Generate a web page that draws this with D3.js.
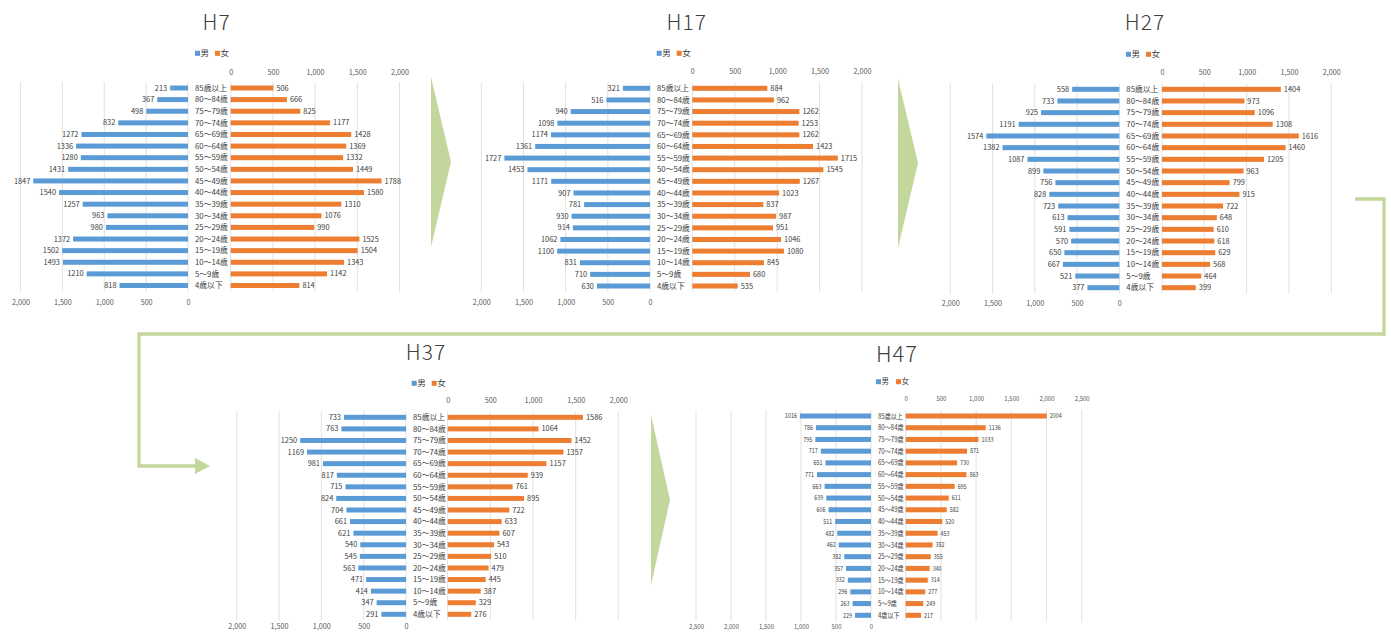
<!DOCTYPE html>
<html>
<head>
<meta charset="utf-8">
<script src="https://cdn.jsdelivr.net/npm/d3@7"></script>
<style>
  body { margin: 0; background: #fff; }
  svg text { font-family: "Noto Sans CJK JP", "Noto Sans", sans-serif; }
</style>
</head>
<body>
<div id="chart"></div>
<script>
// Age groups, top row of the pyramid first
const ageGroups = ["85歳以上", "80～84歳", "75～79歳", "70～74歳", "65～69歳", "60～64歳",
  "55～59歳", "50～54歳", "45～49歳", "40～44歳", "35～39歳", "30～34歳",
  "25～29歳", "20～24歳", "15～19歳", "10～14歳", "5～9歳", "4歳以下"];
const seriesNames = ["男", "女"];
const titles = ["H7", "H17", "H27", "H37", "H47"];

const maleH7 = [213, 367, 498, 832, 1272, 1336, 1280, 1431, 1847, 1540, 1257, 963, 980, 1372, 1502, 1493, 1210, 818];
const femaleH7 = [506, 666, 825, 1177, 1428, 1369, 1332, 1449, 1788, 1580, 1310, 1076, 990, 1525, 1504, 1343, 1142, 814];

const maleH17 = [321, 516, 940, 1098, 1174, 1361, 1727, 1453, 1171, 907, 781, 930, 914, 1062, 1100, 831, 710, 630];
const femaleH17 = [884, 962, 1262, 1253, 1262, 1423, 1715, 1545, 1267, 1023, 837, 987, 951, 1046, 1080, 845, 680, 535];

const maleH27 = [558, 733, 925, 1191, 1574, 1382, 1087, 899, 756, 828, 723, 613, 591, 570, 650, 667, 521, 377];
const femaleH27 = [1404, 973, 1096, 1308, 1616, 1460, 1205, 963, 799, 915, 722, 648, 610, 618, 629, 568, 464, 399];

const maleH37 = [733, 763, 1250, 1169, 981, 817, 715, 824, 704, 661, 621, 540, 545, 563, 471, 414, 347, 291];
const femaleH37 = [1586, 1064, 1452, 1357, 1157, 939, 761, 895, 722, 633, 607, 543, 510, 479, 445, 387, 329, 276];

const maleH47 = [1016, 786, 795, 717, 651, 771, 663, 639, 606, 511, 482, 462, 382, 357, 332, 296, 263, 229];
const femaleH47 = [2004, 1136, 1033, 871, 730, 863, 695, 611, 582, 520, 453, 382, 355, 340, 314, 277, 249, 217];

const ticks2000 = [0, 500, 1000, 1500, 2000];
const ticks2500 = [0, 500, 1000, 1500, 2000, 2500];

// Where each panel sits on the page (pixel layout only)
const normalFont = {cat: 7.8, val: 7.4, tick: 7.2, legend: 8.5, title: 21, squeeze: 1};
const smallFont = {cat: 7.4, val: 6.6, tick: 6, legend: 7.5, title: 22, squeeze: 0.82};

const panels = [
  {title: titles[0], male: maleH7, female: femaleH7, ticks: ticks2000,
   l0: 188, l1: 20.5, r0: 230.7, r1: 399.5, yTop: 88, yBot: 285.5, tickTop: 72.3, tickBot: 302,
   tx: 216.7, ty: 22.5, lx: 195, ly: 53.3, font: normalFont},
  {title: titles[1], male: maleH17, female: femaleH17, ticks: ticks2000,
   l0: 650, l1: 481.3, r0: 692.3, r1: 862, yTop: 88.3, yBot: 286, tickTop: 71.5, tickBot: 302.7,
   tx: 686.7, ty: 22, lx: 656.7, ly: 53.3, font: normalFont},
  {title: titles[2], male: maleH27, female: femaleH27, ticks: ticks2000,
   l0: 1119.3, l1: 950.3, r0: 1162, r1: 1331.3, yTop: 89.3, yBot: 287.7, tickTop: 72.3, tickBot: 303.3,
   tx: 1145, ty: 22.5, lx: 1126, ly: 54.3, font: normalFont},
  {title: titles[3], male: maleH37, female: femaleH37, ticks: ticks2000,
   l0: 406, l1: 236.7, r0: 447.7, r1: 618.3, yTop: 417.3, yBot: 614.3, tickTop: 400.7, tickBot: 626.5,
   tx: 426, ty: 352.5, lx: 411.7, ly: 383.3, font: normalFont},
  {title: titles[4], male: maleH47, female: femaleH47, ticks: ticks2500,
   l0: 871, l1: 696, r0: 905.7, r1: 1081.7, yTop: 416, yBot: 615.3, tickTop: 399.3, tickBot: 627,
   tx: 897, ty: 354.5, lx: 876, ly: 381.7, font: smallFont}
];

const colors = {male: "#5b9bd5", female: "#ed7d31", grid: "#d9d9d9", text: "#404040", tick: "#595959", arrow: "#c3d69b"};

class Pyramid {

  constructor(svg, cfg) {
    this.svg = svg;
    this.cfg = cfg;
    this.initVis();
  }

  initVis() {
    let vis = this;
    let c = vis.cfg;
    let maxVal = d3.max(c.ticks);
    let sq = c.font.squeeze;

    vis.g = vis.svg.append("g");

    vis.xL = d3.scaleLinear().domain([0, maxVal]).range([c.l0, c.l1]);
    vis.xR = d3.scaleLinear().domain([0, maxVal]).range([c.r0, c.r1]);

    // one band per age group, bar about 5px thick
    let step = (c.yBot - c.yTop) / (ageGroups.length - 1);
    vis.y = d3.scaleBand()
      .domain(ageGroups)
      .range([c.yTop - step / 2, c.yBot + step / 2])
      .paddingInner(0.57)
      .paddingOuter(0.285);

    let gridTop = c.yTop - step / 2, gridBot = c.yBot + step / 2;

    // gridlines for both halves
    [vis.xL, vis.xR].forEach(sc => {
      vis.g.append("g").selectAll("line")
        .data(c.ticks)
        .join("line")
        .attr("x1", d => sc(d)).attr("x2", d => sc(d))
        .attr("y1", gridTop).attr("y2", gridBot)
        .attr("stroke", colors.grid)
        .attr("stroke-width", 0.8);
    });

    // axes: right one above, left one below
    let fmt = d3.format(",");
    let axisR = vis.g.append("g")
      .attr("transform", `translate(0,${c.tickTop})`)
      .call(d3.axisTop(vis.xR).tickValues(c.ticks).tickFormat(fmt).tickSize(0));
    let axisL = vis.g.append("g")
      .attr("transform", `translate(0,${c.tickBot})`)
      .call(d3.axisBottom(vis.xL).tickValues(c.ticks).tickFormat(fmt).tickSize(0));
    [axisR, axisL].forEach(a => {
      a.select(".domain").remove();
      a.selectAll("text")
        .attr("y", 0).attr("dy", "0.35em")
        .attr("fill", colors.tick)
        .style("font-size", c.font.tick + "px")
        .style("font-family", "'Noto Sans CJK JP', sans-serif");
    });

    let rows = ageGroups.map((a, i) => ({age: a, m: c.male[i], f: c.female[i]}));
    let bw = vis.y.bandwidth();
    let mid = d => vis.y(d.age) + bw / 2;

    // bars
    vis.g.append("g").selectAll("rect")
      .data(rows)
      .join("rect")
      .attr("x", d => vis.xL(d.m))
      .attr("width", d => c.l0 - vis.xL(d.m))
      .attr("y", d => vis.y(d.age))
      .attr("height", bw)
      .attr("fill", colors.male);

    vis.g.append("g").selectAll("rect")
      .data(rows)
      .join("rect")
      .attr("x", c.r0)
      .attr("width", d => vis.xR(d.f) - c.r0)
      .attr("y", d => vis.y(d.age))
      .attr("height", bw)
      .attr("fill", colors.female);

    // value labels (squeezed horizontally in the narrow panel)
    vis.g.append("g").selectAll("text")
      .data(rows)
      .join("text")
      .attr("transform", d => `translate(${vis.xL(d.m) - 3},${mid(d)}) scale(${sq},1)`)
      .attr("dy", "0.35em")
      .attr("text-anchor", "end")
      .attr("fill", colors.text)
      .style("font-size", c.font.val + "px")
      .text(d => d.m);

    vis.g.append("g").selectAll("text")
      .data(rows)
      .join("text")
      .attr("transform", d => `translate(${vis.xR(d.f) + 3},${mid(d)}) scale(${sq},1)`)
      .attr("dy", "0.35em")
      .attr("fill", colors.text)
      .style("font-size", c.font.val + "px")
      .text(d => d.f);

    // age group labels in the gap
    vis.g.append("g").selectAll("text")
      .data(rows)
      .join("text")
      .attr("transform", d => `translate(${c.l0 + 7},${mid(d)}) scale(${sq},1)`)
      .attr("dy", "0.35em")
      .attr("fill", colors.text)
      .style("font-size", c.font.cat + "px")
      .text(d => d.age);

    // title
    vis.g.append("text")
      .attr("x", c.tx).attr("y", c.ty)
      .attr("dy", "0.36em")
      .attr("text-anchor", "middle")
      .attr("fill", colors.text)
      .style("font-size", c.font.title + "px")
      .style("font-weight", 300)
      .style("letter-spacing", "1px")
      .text(c.title);

    // legend
    let leg = vis.g.append("g").selectAll("g")
      .data(seriesNames)
      .join("g")
      .attr("transform", (d, i) => `translate(${c.lx + i * 20},${c.ly})`);
    leg.append("rect")
      .attr("x", 0).attr("y", -2.5)
      .attr("width", 5).attr("height", 5)
      .attr("fill", (d, i) => i === 0 ? colors.male : colors.female);
    leg.append("text")
      .attr("x", 5.5).attr("dy", "0.35em")
      .attr("fill", colors.text)
      .style("font-size", c.font.legend + "px")
      .text(d => d);
  }
}

const svg = d3.select("#chart")
  .append("svg")
  .attr("width", 1391)
  .attr("height", 632);

// green arrows between the panels (decoration)
const deco = svg.append("g");
const tri = [
  [[431, 77], [451, 162], [431, 247]],
  [[898, 79], [918, 163], [898, 248]],
  [[651, 415], [670, 500], [651, 585]]
];
deco.selectAll("path.tri")
  .data(tri)
  .join("path")
  .attr("class", "tri")
  .attr("d", d => d3.line()(d) + "Z")
  .attr("fill", colors.arrow);

deco.append("path")
  .attr("d", d3.line()([[1355, 199], [1384, 199], [1384, 334], [139, 334], [139, 466], [197, 466]]))
  .attr("fill", "none")
  .attr("stroke", colors.arrow)
  .attr("stroke-width", 3.3);
deco.append("path")
  .attr("d", d3.line()([[195, 458], [210, 466], [195, 474]]) + "Z")
  .attr("fill", colors.arrow);

panels.forEach(p => new Pyramid(svg, p));
</script>
</body>
</html>
